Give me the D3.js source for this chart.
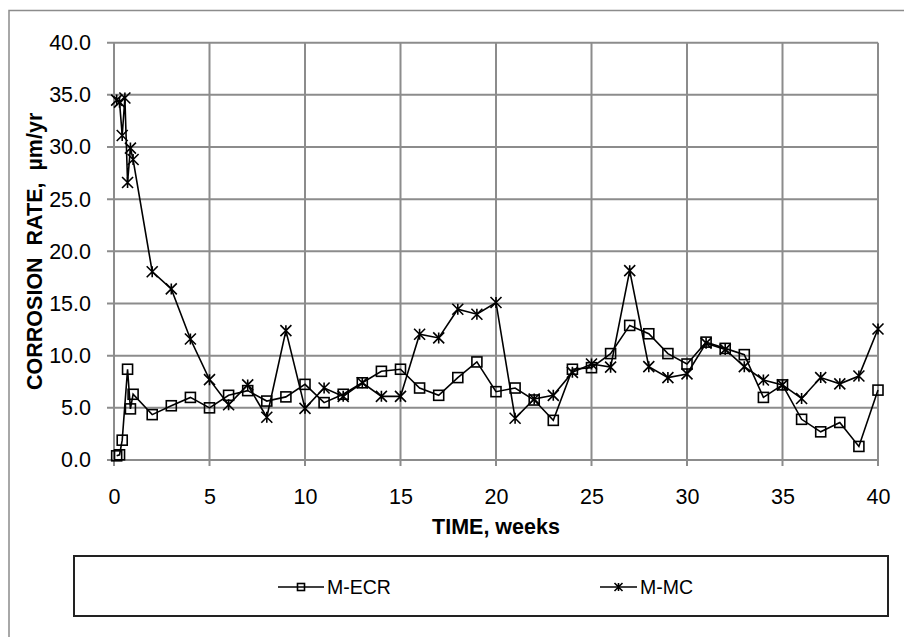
<!DOCTYPE html>
<html lang="en">
<head>
<meta charset="UTF-8">
<title>Corrosion rate vs time</title>
<script src="https://cdn.jsdelivr.net/npm/d3@7"></script>
<style>
  body { margin: 0; background: #fff; }
  text { font-family: "Liberation Sans", Arial, sans-serif; }
</style>
</head>
<body>
<div id="chart"></div>
<script>
// M-ECR series (weeks, um/yr)
var ecrWeeks = [0.14, 0.29, 0.43, 0.71, 0.86, 1, 2, 3, 4, 5, 6, 7, 8, 9, 10, 11, 12, 13, 14, 15, 16, 17, 18, 19, 20,
  21, 22, 23, 24, 25, 26, 27, 28, 29, 30, 31, 32, 33, 34, 35, 36, 37, 38, 39, 40];
var ecrValues = [0.4, 0.5, 1.9, 8.7, 4.9, 6.3, 4.35, 5.2, 6.0, 5.0, 6.2, 6.65, 5.65, 6.05, 7.25, 5.5, 6.3, 7.4, 8.5, 8.7, 6.9, 6.2, 7.9, 9.4, 6.55,
  6.9, 5.75, 3.8, 8.7, 8.85, 10.2, 12.9, 12.1, 10.2, 9.2, 11.3, 10.7, 10.1, 6.0, 7.2, 3.9, 2.7, 3.6, 1.3, 6.7];

// M-MC series
var mcWeeks = [0.14, 0.29, 0.43, 0.57, 0.71, 0.86, 1, 2, 3, 4, 5, 6, 7, 8, 9, 10, 11, 12, 13, 14, 15, 16, 17, 18, 19, 20,
  21, 22, 23, 24, 25, 26, 27, 28, 29, 30, 31, 32, 33, 34, 35, 36, 37, 38, 39, 40];
var mcValues = [34.5, 34.3, 31.1, 34.7, 26.6, 29.9, 28.8, 18.05, 16.4, 11.6, 7.7, 5.3, 7.2, 4.1, 12.4, 4.95, 6.9, 6.1, 7.4, 6.1, 6.1, 12.05, 11.7, 14.45, 13.97, 15.1,
  4.0, 5.85, 6.2, 8.4, 9.2, 8.9, 18.15, 8.95, 7.9, 8.25, 11.2, 10.6, 8.95, 7.67, 7.2, 5.9, 7.9, 7.3, 8.05, 12.56];

var xTicks = [0, 5, 10, 15, 20, 25, 30, 35, 40];
var yTicks = [0, 5, 10, 15, 20, 25, 30, 35, 40];
var seriesNames = ["M-ECR", "M-MC"];

var W = 904, H = 637;
var margin = { top: 42.7, right: 26, bottom: 177, left: 114 };

var svg = d3.select("#chart").append("svg")
  .attr("width", W)
  .attr("height", H);

// outer chart border
svg.append("rect")
  .attr("x", 9).attr("y", 10.5)
  .attr("width", 905).attr("height", 640)
  .attr("fill", "none")
  .attr("stroke", "#8c8c8c")
  .attr("stroke-width", 1.5);

var x = d3.scaleLinear().domain([0, 40]).range([margin.left, W - margin.right]);
var y = d3.scaleLinear().domain([0, 40]).range([H - margin.bottom, margin.top]);

var gridColor = "#8c8c8c";

// gridlines
svg.append("g")
  .selectAll("line")
  .data(xTicks)
  .join("line")
  .attr("x1", d => x(d)).attr("x2", d => x(d))
  .attr("y1", y(40)).attr("y2", y(0) + 6)
  .attr("stroke", gridColor).attr("stroke-width", 2);

svg.append("g")
  .selectAll("line")
  .data(yTicks)
  .join("line")
  .attr("x1", x(0) - 7).attr("x2", x(40))
  .attr("y1", d => y(d)).attr("y2", d => y(d))
  .attr("stroke", gridColor).attr("stroke-width", 2);

// y tick labels
var yAxis = svg.append("g")
  .attr("transform", "translate(" + (x(0) - 23) + ",0)")
  .call(d3.axisLeft(y).tickValues(yTicks).tickSize(0).tickPadding(0).tickFormat(d3.format(".1f")));
yAxis.select(".domain").remove();
yAxis.selectAll("text")
  .attr("font-size", "21.5px")
  .attr("fill", "#000")
  .attr("x", 0)
  .style("font-family", "'Liberation Sans', Arial, sans-serif");

// x tick labels
var xAxis = svg.append("g")
  .attr("transform", "translate(0," + (y(0) + 29) + ")")
  .call(d3.axisBottom(x).tickValues(xTicks).tickSize(0).tickPadding(0).tickFormat(d3.format("d")));
xAxis.select(".domain").remove();
xAxis.selectAll("text")
  .attr("font-size", "21.5px")
  .attr("fill", "#000")
  .style("font-family", "'Liberation Sans', Arial, sans-serif");

// axis titles
svg.append("text")
  .attr("x", (x(0) + x(40)) / 2)
  .attr("y", 534)
  .attr("text-anchor", "middle")
  .attr("font-size", "21.5px")
  .attr("font-weight", "bold")
  .text("TIME, weeks");

svg.append("text")
  .attr("transform", "translate(42," + ((y(0) + y(40)) / 2) + ") rotate(-90)")
  .attr("text-anchor", "middle")
  .attr("font-size", "21.5px")
  .attr("font-weight", "bold")
  .style("white-space", "pre")
  .text("CORROSION  RATE,  \u00b5m/yr");

// markers
function drawSquare(g, s) {
  g.append("rect")
    .attr("x", -s / 2).attr("y", -s / 2)
    .attr("width", s).attr("height", s)
    .attr("fill", "none").attr("stroke", "#000").attr("stroke-width", 1.6);
}
function drawStar(g, s) {
  var h = s / 2;
  g.append("path")
    .attr("d", "M" + (-h) + "," + (-h) + "L" + h + "," + h +
      "M" + (-h) + "," + h + "L" + h + "," + (-h) +
      "M0," + (-h) + "L0," + h)
    .attr("fill", "none").attr("stroke", "#000").attr("stroke-width", 1.6);
}

var line = d3.line()
  .x(d => x(d[0]))
  .y(d => y(d[1]));

var ecrData = ecrWeeks.map((w, i) => [w, ecrValues[i]]);
var mcData = mcWeeks.map((w, i) => [w, mcValues[i]]);

svg.append("path")
  .datum(ecrData)
  .attr("fill", "none").attr("stroke", "#000").attr("stroke-width", 1.6)
  .attr("d", line);

svg.append("path")
  .datum(mcData)
  .attr("fill", "none").attr("stroke", "#000").attr("stroke-width", 1.6)
  .attr("d", line);

svg.append("g").selectAll("g")
  .data(ecrData)
  .join("g")
  .attr("transform", d => "translate(" + x(d[0]) + "," + y(d[1]) + ")")
  .each(function () { drawSquare(d3.select(this), 10); });

svg.append("g").selectAll("g")
  .data(mcData)
  .join("g")
  .attr("transform", d => "translate(" + x(d[0]) + "," + y(d[1]) + ")")
  .each(function () { drawStar(d3.select(this), 11); });

// legend
var legend = svg.append("g");
legend.append("rect")
  .attr("x", 74).attr("y", 556)
  .attr("width", 814).attr("height", 60)
  .attr("fill", "none").attr("stroke", "#222").attr("stroke-width", 2);

var legendItems = [
  { name: seriesNames[0], x1: 278, x2: 324, marker: drawSquare, size: 7 },
  { name: seriesNames[1], x1: 600, x2: 637, marker: drawStar, size: 8 }
];
legendItems.forEach(function (it) {
  var g = legend.append("g");
  g.append("line")
    .attr("x1", it.x1).attr("x2", it.x2)
    .attr("y1", 587).attr("y2", 587)
    .attr("stroke", "#000").attr("stroke-width", 1.6);
  var m = g.append("g").attr("transform", "translate(" + ((it.x1 + it.x2) / 2) + ",587)");
  it.marker(m, it.size);
  g.append("text")
    .attr("x", it.x2 + 3).attr("y", 587)
    .attr("dy", "0.35em")
    .attr("font-size", "19.5px")
    .text(it.name);
});
</script>
</body>
</html>
